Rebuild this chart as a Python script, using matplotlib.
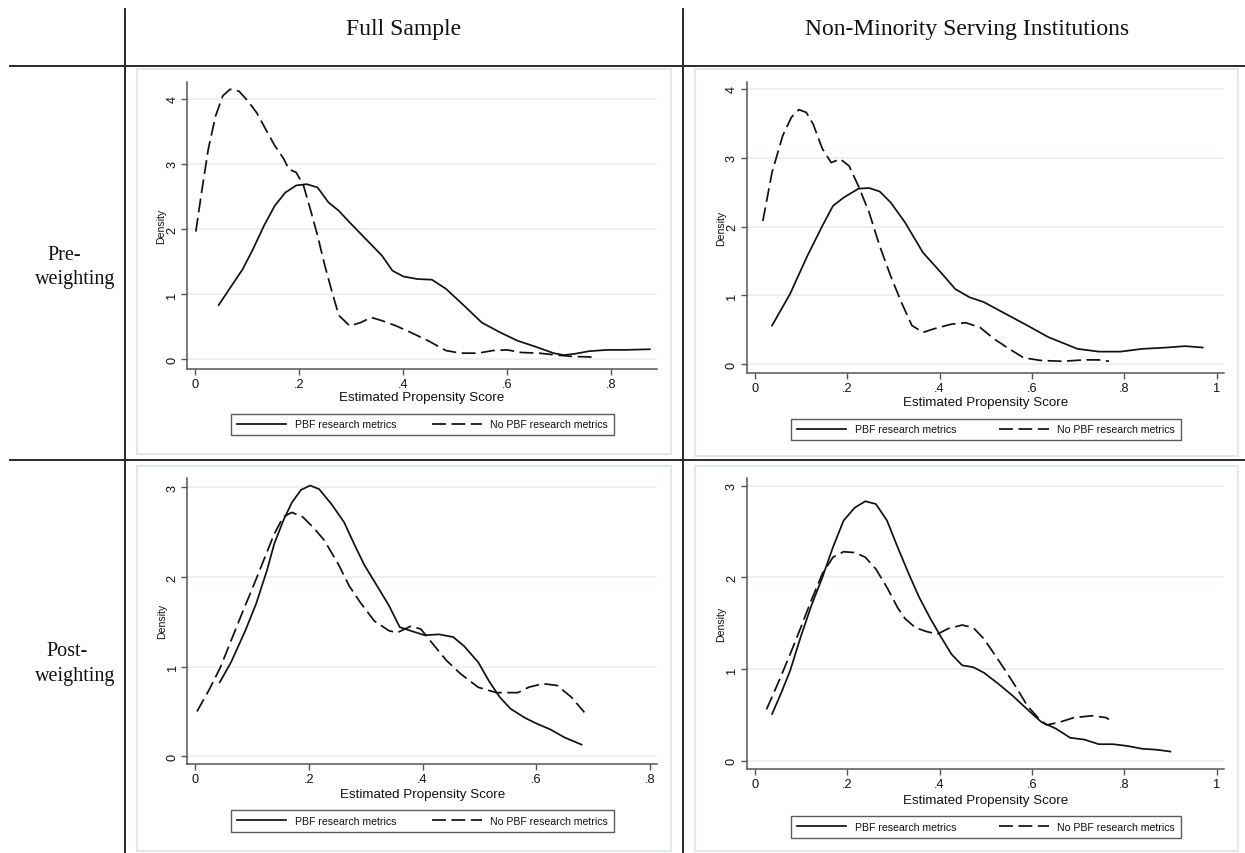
import matplotlib
matplotlib.use("Agg")
import matplotlib.pyplot as plt
from matplotlib.lines import Line2D
from matplotlib.patches import Rectangle

# ---------------- data ----------------
col_titles = ["Full Sample", "Non-Minority Serving Institutions"]
row_titles = [("Pre-", "weighting"), ("Post-", "weighting")]
series_labels = ["PBF research metrics", "No PBF research metrics"]
xlabel = "Estimated Propensity Score"
ylabel = "Density"

xticks_full = [0, 0.2, 0.4, 0.6, 0.8]
xticklabels_full = ["0", ".2", ".4", ".6", ".8"]
xticks_nmsi = [0, 0.2, 0.4, 0.6, 0.8, 1.0]
xticklabels_nmsi = ["0", ".2", ".4", ".6", ".8", "1"]
yticks_pre = [0, 1, 2, 3, 4]
yticks_post = [0, 1, 2, 3]

# Full sample, pre-weighting
full_pre_pbf_x = [0.045, 0.07, 0.091, 0.111, 0.132, 0.153, 0.173, 0.194, 0.214, 0.235, 0.256, 0.276,
                  0.297, 0.331, 0.359, 0.379, 0.40, 0.427, 0.455, 0.482, 0.517, 0.551, 0.586, 0.62,
                  0.654, 0.689, 0.709, 0.73, 0.757, 0.792, 0.826, 0.874]
full_pre_pbf_y = [0.83, 1.13, 1.38, 1.69, 2.05, 2.36, 2.56, 2.67, 2.69, 2.64, 2.41, 2.28,
                  2.10, 1.82, 1.59, 1.36, 1.27, 1.23, 1.22, 1.08, 0.82, 0.56, 0.41, 0.28,
                  0.19, 0.09, 0.06, 0.08, 0.12, 0.14, 0.14, 0.15]
full_pre_nopbf_x = [0.001, 0.012, 0.025, 0.039, 0.053, 0.067, 0.084, 0.101, 0.118, 0.135, 0.153, 0.17,
                    0.18, 0.194, 0.208, 0.221, 0.235, 0.249, 0.263, 0.276, 0.297, 0.318, 0.338, 0.359,
                    0.386, 0.414, 0.448, 0.482, 0.51, 0.544, 0.572, 0.60, 0.627, 0.661, 0.696, 0.723, 0.764]
full_pre_nopbf_y = [1.96, 2.56, 3.23, 3.74, 4.05, 4.15, 4.12, 3.97, 3.79, 3.54, 3.28, 3.08,
                    2.92, 2.87, 2.67, 2.31, 1.90, 1.44, 1.03, 0.67, 0.51, 0.56, 0.64, 0.59,
                    0.51, 0.41, 0.28, 0.13, 0.09, 0.09, 0.13, 0.14, 0.10, 0.09, 0.06, 0.04, 0.03]

# Non-MSI, pre-weighting
nmsi_pre_pbf_x = [0.037, 0.076, 0.114, 0.146, 0.169, 0.192, 0.224, 0.247, 0.27, 0.294, 0.325, 0.364,
                  0.403, 0.434, 0.465, 0.496, 0.543, 0.59, 0.636, 0.699, 0.745, 0.792, 0.839, 0.893,
                  0.932, 0.97]
nmsi_pre_pbf_y = [0.56, 1.02, 1.58, 2.01, 2.30, 2.42, 2.55, 2.56, 2.51, 2.35, 2.06, 1.62,
                  1.33, 1.09, 0.97, 0.90, 0.73, 0.56, 0.39, 0.22, 0.18, 0.18, 0.22, 0.24,
                  0.26, 0.24]
nmsi_pre_nopbf_x = [0.017, 0.037, 0.06, 0.079, 0.095, 0.111, 0.126, 0.146, 0.165, 0.185, 0.204, 0.224,
                    0.247, 0.27, 0.294, 0.317, 0.34, 0.364, 0.387, 0.426, 0.457, 0.488, 0.519, 0.551,
                    0.582, 0.621, 0.667, 0.714, 0.745, 0.767]
nmsi_pre_nopbf_y = [2.08, 2.79, 3.32, 3.59, 3.70, 3.66, 3.49, 3.13, 2.93, 2.98, 2.88, 2.59,
                    2.21, 1.72, 1.28, 0.90, 0.56, 0.46, 0.51, 0.58, 0.60, 0.53, 0.36, 0.22,
                    0.09, 0.05, 0.04, 0.06, 0.06, 0.04]

# Full sample, post-weighting
full_post_pbf_x = [0.043, 0.063, 0.088, 0.107, 0.126, 0.139, 0.155, 0.17, 0.186, 0.202, 0.218, 0.24,
                   0.262, 0.278, 0.297, 0.322, 0.341, 0.36, 0.379, 0.404, 0.429, 0.454, 0.473, 0.498,
                   0.517, 0.536, 0.555, 0.58, 0.599, 0.625, 0.65, 0.669, 0.68]
full_post_pbf_y = [0.825, 1.05, 1.40, 1.70, 2.07, 2.37, 2.63, 2.83, 2.97, 3.02, 2.98, 2.81,
                   2.61, 2.39, 2.14, 1.88, 1.68, 1.44, 1.40, 1.35, 1.36, 1.33, 1.23, 1.05,
                   0.84, 0.66, 0.53, 0.43, 0.37, 0.30, 0.21, 0.16, 0.13]
full_post_nopbf_x = [0.003, 0.025, 0.044, 0.063, 0.082, 0.101, 0.12, 0.139, 0.155, 0.17, 0.189, 0.208,
                     0.227, 0.252, 0.271, 0.29, 0.315, 0.341, 0.356, 0.379, 0.397, 0.416, 0.442, 0.467,
                     0.498, 0.53, 0.568, 0.587, 0.612, 0.637, 0.662, 0.685]
full_post_nopbf_y = [0.50, 0.75, 0.99, 1.29, 1.59, 1.88, 2.18, 2.48, 2.67, 2.72, 2.67, 2.55,
                     2.41, 2.14, 1.90, 1.72, 1.51, 1.40, 1.38, 1.45, 1.42, 1.27, 1.07, 0.92,
                     0.77, 0.71, 0.71, 0.77, 0.81, 0.79, 0.66, 0.49]

# Non-MSI, post-weighting
nmsi_post_pbf_x = [0.037, 0.056, 0.076, 0.099, 0.122, 0.146, 0.169, 0.192, 0.216, 0.239, 0.262, 0.286,
                   0.309, 0.333, 0.356, 0.379, 0.403, 0.426, 0.449, 0.473, 0.496, 0.527, 0.558, 0.59,
                   0.621, 0.652, 0.683, 0.714, 0.745, 0.776, 0.808, 0.839, 0.87, 0.90]
nmsi_post_pbf_y = [0.51, 0.73, 0.98, 1.35, 1.69, 2.00, 2.33, 2.62, 2.76, 2.83, 2.80, 2.62,
                   2.33, 2.04, 1.78, 1.56, 1.35, 1.16, 1.04, 1.02, 0.96, 0.84, 0.71, 0.56,
                   0.42, 0.35, 0.25, 0.23, 0.18, 0.18, 0.16, 0.13, 0.12, 0.10]
nmsi_post_nopbf_x = [0.025, 0.052, 0.076, 0.099, 0.122, 0.146, 0.169, 0.192, 0.216, 0.239, 0.262, 0.286,
                     0.309, 0.325, 0.348, 0.371, 0.395, 0.418, 0.449, 0.473, 0.496, 0.519, 0.543, 0.566,
                     0.59, 0.613, 0.632, 0.66, 0.691, 0.73, 0.761, 0.767]
nmsi_post_nopbf_y = [0.56, 0.87, 1.16, 1.45, 1.75, 2.04, 2.22, 2.28, 2.27, 2.22, 2.09, 1.89,
                     1.67, 1.55, 1.45, 1.41, 1.38, 1.44, 1.48, 1.45, 1.33, 1.16, 0.98, 0.80,
                     0.60, 0.47, 0.39, 0.42, 0.47, 0.49, 0.47, 0.45]

# ---------------- layout (pixels) ----------------
W, H = 1245, 854
fig = plt.figure(figsize=(W / 100, H / 100), dpi=100)
fig.patch.set_facecolor("white")

def fx(x):
    return x / W

def fy(y):
    return 1 - y / H

SANS = ["Liberation Sans", "DejaVu Sans"]
SERIF = ["Liberation Serif", "DejaVu Serif"]
INK = "#111111"
AXC = "#555555"
GRIDC = "#e6eef0"
FRAMEC = "#e2e9ec"

# table lines
for x in (125, 683):
    fig.add_artist(Line2D([fx(x), fx(x)], [fy(10), fy(854)], color="#2a2a2a", lw=1.4))
for y in (67, 461):
    fig.add_artist(Line2D([fx(10), fx(1245)], [fy(y), fy(y)], color="#2a2a2a", lw=1.4))

# header / row titles
fig.text(fx(404), fy(29), col_titles[0], family=SERIF, fontsize=17, ha="center", va="center", color="#111")
fig.text(fx(967), fy(29), col_titles[1], family=SERIF, fontsize=17, ha="center", va="center", color="#111")
fig.text(fx(64), fy(255), row_titles[0][0], family=SERIF, fontsize=14.5, ha="center", va="center", color="#111")
fig.text(fx(75), fy(280), row_titles[0][1], family=SERIF, fontsize=14.5, ha="center", va="center", color="#111")
fig.text(fx(67), fy(652), row_titles[1][0], family=SERIF, fontsize=14.5, ha="center", va="center", color="#111")
fig.text(fx(75), fy(677), row_titles[1][1], family=SERIF, fontsize=14.5, ha="center", va="center", color="#111")

panels = [
    dict(frame=(137, 70, 671, 455), box=(187, 82.7, 657, 369.7), x0=195.3, sx=520, y0=360, sy=65,
         xt=xticks_full, xtl=xticklabels_full, yt=yticks_pre,
         pbf=(full_pre_pbf_x, full_pre_pbf_y), nopbf=(full_pre_nopbf_x, full_pre_nopbf_y),
         leg=(231, 412.7, 614, 438.3), xl=398),
    dict(frame=(695, 70, 1238, 457), box=(746.7, 82.7, 1224, 374), x0=755, sx=461.5, y0=365, sy=68.75,
         xt=xticks_nmsi, xtl=xticklabels_nmsi, yt=yticks_pre,
         pbf=(nmsi_pre_pbf_x, nmsi_pre_pbf_y), nopbf=(nmsi_pre_nopbf_x, nmsi_pre_nopbf_y),
         leg=(791, 418, 1180.5, 443), xl=403),
    dict(frame=(137, 467, 671, 852), box=(187.3, 479, 657, 764.7), x0=195.3, sx=568, y0=757.3, sy=89.67,
         xt=xticks_full, xtl=xticklabels_full, yt=yticks_post,
         pbf=(full_post_pbf_x, full_post_pbf_y), nopbf=(full_post_nopbf_x, full_post_nopbf_y),
         leg=(231, 809, 614, 835), xl=795),
    dict(frame=(695, 467, 1238, 852), box=(746.7, 479, 1224, 770), x0=755, sx=461.5, y0=761.7, sy=91.67,
         xt=xticks_nmsi, xtl=xticklabels_nmsi, yt=yticks_post,
         pbf=(nmsi_post_pbf_x, nmsi_post_pbf_y), nopbf=(nmsi_post_nopbf_x, nmsi_post_nopbf_y),
         leg=(791, 815, 1180.5, 841), xl=800.7),
]

for p in panels:
    l, t, r, b = p["frame"]
    fig.add_artist(Rectangle((fx(l), fy(b)), fx(r) - fx(l), fy(t) - fy(b), transform=fig.transFigure,
                             fill=False, edgecolor=FRAMEC, lw=1.5))
    L, T, R, B = p["box"]
    ax = fig.add_axes([fx(L), fy(B), fx(R) - fx(L), fy(T) - fy(B)])
    ax.set_xlim((L - p["x0"]) / p["sx"], (R - p["x0"]) / p["sx"])
    ax.set_ylim((p["y0"] - B) / p["sy"], (p["y0"] - T) / p["sy"])
    for s in ("top", "right"):
        ax.spines[s].set_visible(False)
    for s in ("left", "bottom"):
        ax.spines[s].set_color(AXC)
        ax.spines[s].set_linewidth(1.1)
    ax.set_xticks(p["xt"])
    ax.set_xticklabels(p["xtl"], family=SANS, fontsize=9.2)
    ax.set_yticks(p["yt"])
    ax.set_yticklabels([str(v) for v in p["yt"]], family=SANS, fontsize=9.2, rotation=90, va="center")
    ax.tick_params(axis="both", direction="out", length=4, width=1, color=AXC, labelcolor=INK)
    ax.tick_params(axis="x", pad=2.5)
    ax.tick_params(axis="y", pad=2.3)
    ax.grid(axis="y", color=GRIDC, lw=1.1)
    ax.set_axisbelow(True)

    ax.plot(p["pbf"][0], p["pbf"][1], color=INK, lw=1.25, solid_joinstyle="round", label=series_labels[0])
    ax.plot(p["nopbf"][0], p["nopbf"][1], color=INK, lw=1.25, dashes=(8, 3.2), label=series_labels[1])

    ax.set_xlabel(xlabel, family=SANS, fontsize=9.6, color=INK)
    ax.xaxis.set_label_coords(0.5, (B - p["xl"]) / (B - T))
    ax.xaxis.label.set_va("center")
    ax.set_ylabel(ylabel, family=SANS, fontsize=7.6, color=INK)
    ax.yaxis.set_label_coords(-25.5 / (R - L), 0.5)
    ax.yaxis.label.set_va("center")

    gl, gt, gr, gb = p["leg"]
    leg = ax.legend(loc="center", bbox_to_anchor=(fx(gl), fy(gb), fx(gr) - fx(gl), fy(gt) - fy(gb)),
                    bbox_transform=fig.transFigure, mode="expand", ncol=2, frameon=True, fancybox=False,
                    edgecolor="#333333", prop={"family": SANS, "size": 7.6}, handlelength=4.7,
                    handletextpad=0.8, borderpad=0.55, borderaxespad=0)
    leg.get_frame().set_linewidth(1.0)
    for txt in leg.get_texts():
        txt.set_color(INK)

fig.savefig("out.png", dpi=100, facecolor="white")
